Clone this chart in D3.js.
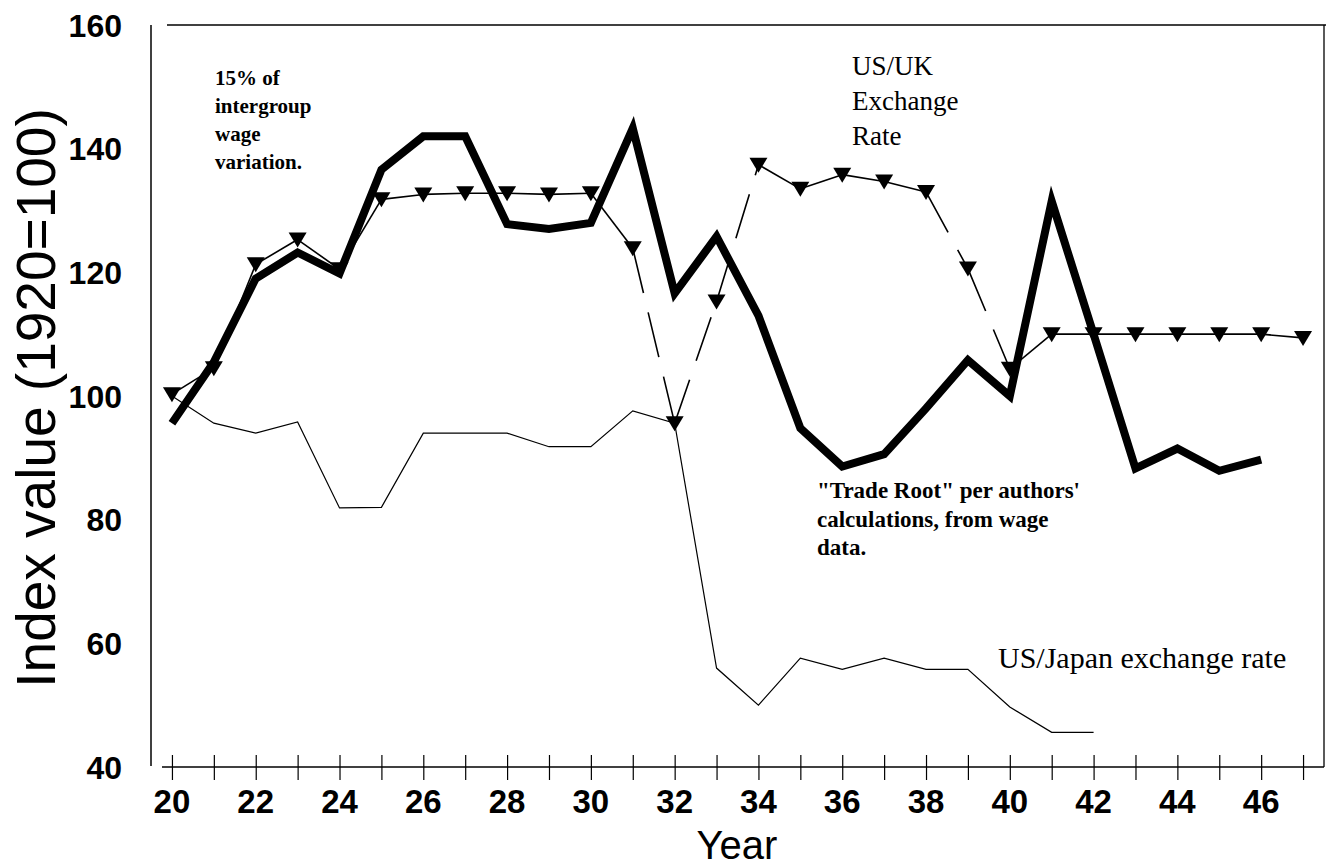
<!DOCTYPE html>
<html>
<head>
<meta charset="utf-8">
<script src="https://cdn.jsdelivr.net/npm/d3@7"></script>
<style>
  body { margin: 0; background: #fff; }
  svg { display: block; }
</style>
</head>
<body>
<script>
// years on the axis
const yearTicks = d3.range(20, 48);
const xLabelYears = [20, 22, 24, 26, 28, 30, 32, 34, 36, 38, 40, 42, 44, 46];
const yTicks = [40, 60, 80, 100, 120, 140, 160];

// "Trade Root" per authors' calculations (thick line)
const tradeYears = d3.range(20, 47);
const tradeRoot = [95.6, 105.5, 119, 123.2, 119.8, 136.6, 142, 142, 127.8, 127, 128,
  143.3, 116.6, 125.8, 113, 94.8, 88.6, 90.6, 98, 105.8, 100, 131.5, 110, 88.3, 91.5, 87.9, 89.7];

// US/UK exchange rate (triangles)
const ukYears = d3.range(20, 48);
const ukRate = [100.3, 104.5, 121.3, 125.3, 120.5, 131.8, 132.6, 132.8, 132.8, 132.6, 132.8,
  123.9, 95.6, 115.3, 137.4, 133.5, 135.8, 134.7, 133, 120.6, 104.4, 110, 110, 110, 110, 110, 110, 109.4];
// segments (start year) drawn dashed
const ukDashedFrom = [31, 32, 33, 38, 39];

// US/Japan exchange rate (thin line)
const japanYears = d3.range(20, 43);
const japanRate = [100, 95.6, 94, 95.8, 81.9, 82, 94, 94, 94, 91.8, 91.8, 97.6, 95.6,
  56, 50, 57.6, 55.8, 57.6, 55.8, 55.8, 49.7, 45.6, 45.6];

const width = 1326;
const height = 867;

const svg = d3.select('body').append('svg')
  .attr('width', width)
  .attr('height', height);

const x = d3.scaleLinear().domain([19.5, 47.5]).range([151, 1324]);
const y = d3.scaleLinear().domain([40, 160]).range([767, 25]);

const sans = 'Liberation Sans, Arial, sans-serif';
const serif = 'Liberation Serif, Times New Roman, serif';

// frame: left axis line, top line, right line
svg.append('line')
  .attr('x1', 151).attr('x2', 151)
  .attr('y1', y(160)).attr('y2', 766)
  .attr('stroke', 'black').attr('stroke-width', 1.5);
svg.append('line')
  .attr('x1', 167).attr('x2', width)
  .attr('y1', y(160)).attr('y2', y(160))
  .attr('stroke', 'black').attr('stroke-width', 1.3);
svg.append('line')
  .attr('x1', x(47.5)).attr('x2', x(47.5))
  .attr('y1', y(160)).attr('y2', y(40))
  .attr('stroke', 'black').attr('stroke-width', 1.3);

// x axis, ticks crossing the line
const xAxis = svg.append('g')
  .attr('transform', `translate(0,${y(40)})`)
  .call(d3.axisBottom(x).tickValues(yearTicks).tickSize(13).tickFormat(''));
xAxis.select('.domain').remove();
xAxis.selectAll('.tick line').attr('y1', -12).attr('stroke-width', 1.2);
xAxis.append('line')
  .attr('x1', 162).attr('x2', x(47.5))
  .attr('stroke', 'black').attr('stroke-width', 1.5);

svg.append('g')
  .selectAll('text')
  .data(xLabelYears)
  .join('text')
  .attr('x', d => x(d))
  .attr('y', 813)
  .attr('text-anchor', 'middle')
  .attr('font-family', sans)
  .attr('font-weight', 'bold')
  .attr('font-size', 33)
  .text(d => d);

svg.append('g')
  .selectAll('text')
  .data(yTicks)
  .join('text')
  .attr('x', 122)
  .attr('y', d => y(d))
  .attr('dy', '0.36em')
  .attr('text-anchor', 'end')
  .attr('font-family', sans)
  .attr('font-weight', 'bold')
  .attr('font-size', 32)
  .text(d => d);

svg.append('text')
  .attr('x', 737)
  .attr('y', 859)
  .attr('text-anchor', 'middle')
  .attr('font-family', sans)
  .attr('font-size', 40)
  .text('Year');

svg.append('text')
  .attr('transform', `translate(55,398) rotate(-90)`)
  .attr('text-anchor', 'middle')
  .attr('font-family', sans)
  .attr('font-size', 55)
  .text('Index value (1920=100)');

// US/Japan thin line
const japanLine = d3.line().x((d, i) => x(japanYears[i])).y(d => y(d));
svg.append('path')
  .datum(japanRate)
  .attr('d', japanLine)
  .attr('fill', 'none')
  .attr('stroke', 'black')
  .attr('stroke-width', 1.2);

// US/UK segments, some dashed
const ukSegs = ukYears.slice(1).map((yr, i) => ({
  x0: ukYears[i], v0: ukRate[i], x1: yr, v1: ukRate[i + 1],
  dashed: ukDashedFrom.includes(ukYears[i])
}));
svg.append('g')
  .selectAll('line')
  .data(ukSegs)
  .join('line')
  .attr('x1', d => x(d.x0)).attr('y1', d => y(d.v0))
  .attr('x2', d => x(d.x1)).attr('y2', d => y(d.v1))
  .attr('stroke', 'black')
  .attr('stroke-width', 1.6)
  .attr('stroke-dasharray', d => d.dashed ? '46,20' : null);

svg.append('g')
  .selectAll('path')
  .data(ukRate)
  .join('path')
  .attr('transform', (d, i) => `translate(${x(ukYears[i])},${y(d)})`)
  .attr('d', 'M-9,-7L9,-7L0,8Z')
  .attr('fill', 'black');

// Trade Root thick line
const tradeLine = d3.line().x((d, i) => x(tradeYears[i])).y(d => y(d));
svg.append('path')
  .datum(tradeRoot)
  .attr('d', tradeLine)
  .attr('fill', 'none')
  .attr('stroke', 'black')
  .attr('stroke-width', 8)
  .attr('stroke-linejoin', 'miter');

// annotations
function note(lines, x0, y0, step, size, weight) {
  const t = svg.append('text')
    .attr('font-family', serif)
    .attr('font-size', size)
    .attr('font-weight', weight);
  lines.forEach((s, i) => {
    t.append('tspan').attr('x', x0).attr('y', y0 + i * step).text(s);
  });
}
note(['15% of', 'intergroup', 'wage', 'variation.'], 215, 85, 28, 21, 'bold');
note(['US/UK', 'Exchange', 'Rate'], 852, 75, 35, 27, 'normal');
note(['"Trade Root" per authors\'', 'calculations, from wage', 'data.'], 817, 498, 28.5, 23, 'bold');
note(['US/Japan exchange rate'], 998, 668, 0, 30, 'normal');
</script>
</body>
</html>
